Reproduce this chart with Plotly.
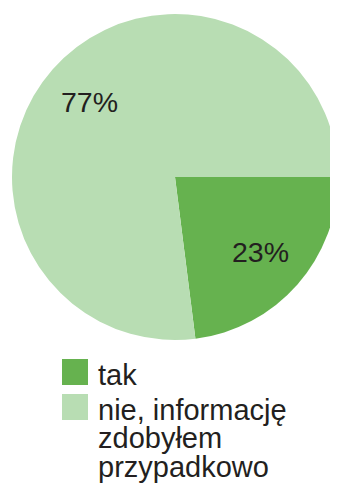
import math
import plotly.graph_objects as go

# Daten
etykiety = ["tak", "nie, informację zdobyłem przypadkowo"]
wartosci = [23, 77]
kolory = ["#66b24f", "#b8ddb3"]
linie_legendy = [["tak"], ["nie, informację", "zdobyłem", "przypadkowo"]]

# Seite hat 8px Rand -> Figur etwas kleiner, Koordinaten verschoben
OFF = 8
W, H = 338 - OFF, 483 - OFF
cx, cy, R = 175 - OFF, 177 - OFF, 163
tekst_farbe = "#231f20"
fs_proz = 28.5
fs_leg = 29

fig = go.Figure(go.Pie(
    labels=etykiety,
    values=wartosci,
    sort=False,
    direction="clockwise",
    rotation=90,
    marker=dict(colors=kolory, line=dict(width=0)),
    textinfo="none",
    domain=dict(x=[(cx - R) / W, (cx + R) / W], y=[1 - (cy + R) / H, 1 - (cy - R) / H]),
    hoverinfo="label+percent",
    showlegend=False,
))

# Prozentbeschriftungen auf der Winkelhalbierenden jedes Segments
summe = sum(wartosci)
kum = 0
for w in wartosci:
    mitte = (kum + w / 2) / summe * 2 * math.pi
    kum += w
    px = cx + 0.7 * R * math.cos(mitte)
    py = cy + 0.7 * R * math.sin(mitte)
    fig.add_annotation(
        x=px / W, y=1 - py / H, xref="paper", yref="paper",
        text=f"{round(w / summe * 100)}%", showarrow=False,
        xanchor="center", yanchor="middle",
        font=dict(size=fs_proz, color=tekst_farbe),
    )

# Legende von Hand (große Farbfelder)
basis = 385 - OFF
zeilenabstand = 28.5
zeile = 0
for i, (farbe, linien) in enumerate(zip(kolory, linie_legendy)):
    erste = basis + zeile * zeilenabstand + i * 6.5
    fig.add_shape(
        type="rect", xref="paper", yref="paper",
        x0=(62 - OFF) / W, x1=(88 - OFF) / W, y0=1 - erste / H, y1=1 - (erste - 26) / H,
        fillcolor=farbe, line=dict(width=0),
    )
    for j, txt in enumerate(linien):
        bl = erste + j * zeilenabstand
        fig.add_annotation(
            x=(96 - OFF) / W, y=1 - (bl - 0.35 * fs_leg) / H, xref="paper", yref="paper",
            text=txt, showarrow=False, xanchor="left", yanchor="middle",
            font=dict(size=fs_leg, color=tekst_farbe),
        )
    zeile += len(linien)

fig.update_layout(
    width=W,
    height=H,
    margin=dict(l=0, r=0, t=0, b=0),
    paper_bgcolor="white",
    font=dict(family="Liberation Sans, Arial, sans-serif", color=tekst_farbe),
)

fig.write_html("out.html")
